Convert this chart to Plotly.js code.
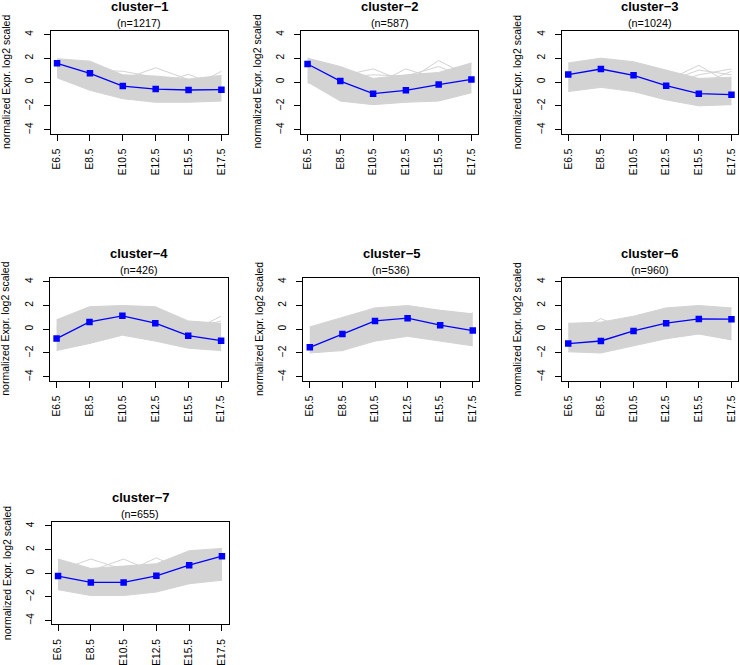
<!DOCTYPE html>
<html>
<head>
<meta charset="utf-8">
<script src="https://cdn.plot.ly/plotly-3.0.1.min.js"></script>
<style>html,body{margin:0;padding:0;background:#fff;}#chart{width:740px;height:665px;}</style>
</head>
<body>
<div id="chart"></div>
<script>
// ---------- data ----------
const timepoints = ['E6.5', 'E8.5', 'E10.5', 'E12.5', 'E15.5', 'E17.5'];
const clusterNames = ['cluster\u22121', 'cluster\u22122', 'cluster\u22123', 'cluster\u22124', 'cluster\u22125', 'cluster\u22126', 'cluster\u22127'];
const clusterSizes = [1217, 587, 1024, 426, 536, 960, 655];
const yAxisTitle = 'normalized Expr. log2 scaled';
const yTickVals = [-4, -2, 0, 2, 4];
const yTickText = ['\u22124', '\u22122', '0', '2', '4'];

// cluster mean profiles (blue)
const mean1 = [1.57, 0.73, -0.34, -0.59, -0.67, -0.64];
const mean2 = [1.51, 0.08, -0.98, -0.70, -0.22, 0.22];
const mean3 = [0.62, 1.09, 0.56, -0.31, -0.98, -1.06];
const mean4 = [-0.79, 0.62, 1.13, 0.51, -0.54, -0.96];
const mean5 = [-1.52, -0.39, 0.70, 0.93, 0.34, -0.11];
const mean6 = [-1.21, -0.99, -0.14, 0.51, 0.87, 0.85];
const mean7 = [-0.25, -0.79, -0.79, -0.23, 0.68, 1.44];

// dense grey band of member genes (upper / lower edge)
const bandHi1 = [1.95, 1.75, 0.6, 0.5, 0.25, 0.55];
const bandLo1 = [0.35, -0.7, -1.4, -1.7, -1.7, -1.6];
const bandHi2 = [2.0, 1.3, 0.3, 0.6, 0.8, 1.6];
const bandLo2 = [0.0, -1.6, -1.9, -1.7, -1.6, -0.9];
const bandHi3 = [1.6, 2.0, 1.7, 1.0, 0.3, 0.4];
const bandLo3 = [-0.8, -0.45, -0.8, -1.5, -2.0, -1.9];
const bandHi4 = [0.8, 1.9, 2.0, 1.9, 0.7, 0.5];
const bandLo4 = [-1.8, -1.2, -0.5, -1.0, -1.6, -1.8];
const bandHi5 = [0.2, 1.0, 1.8, 2.0, 1.6, 1.3];
const bandLo5 = [-2.0, -1.8, -1.0, -0.6, -1.0, -1.4];
const bandHi6 = [0.5, 0.6, 1.1, 1.8, 2.0, 1.8];
const bandLo6 = [-1.9, -2.0, -1.4, -0.8, -0.4, -0.9];
const bandHi7 = [1.2, 0.4, 0.6, 0.8, 1.9, 2.1];
const bandLo7 = [-1.4, -1.9, -1.9, -1.6, -0.9, -0.6];

// individual outlying member genes (thin grey lines)
const outliers1 = [[1.2, 0.9, 0.2, 1.2, 0.2, -0.3], [1.0, 0.5, 0.5, -0.2, 0.65, -0.5], [0.8, 0.3, -0.4, -0.5, -0.6, 0.9], [1.4, 1.0, 0.9, 0.4, -0.2, 0.0]];
const outliers2 = [[0.3, 0.5, 1.1, 0.0, 0.3, 0.5], [0.5, 0.2, -0.3, 1.1, 0.2, 0.8], [0.8, 0.0, -0.5, 0.0, 1.8, 0.4], [-0.1, 0.4, 0.6, 0.5, 1.3, 0.2]];
const outliers3 = [[0.5, 0.8, 0.3, 0.1, 1.4, -0.2], [0.0, 1.0, 0.2, 0.0, 1.0, 0.6], [0.2, 0.9, 0.5, -0.2, 0.6, 1.1], [0.8, 1.2, 0.4, 0.1, -0.2, 0.9]];
const outliers4 = [[0.0, 0.3, 0.4, 0.2, -0.3, 1.1], [-0.5, 0.4, 0.9, 0.3, 0.0, 0.7], [0.2, -1.2, 0.1, 0.0, -0.8, -0.2]];
const outliers5 = [[0.0, -1.8, 0.0, 0.5, 0.2, 0.3], [-1.0, 0.2, -1.0, 0.4, 0.0, 1.4]];
const outliers6 = [[-0.5, 0.9, -0.3, -0.8, 0.5, 0.2], [0.3, -0.2, 0.4, 0.3, -0.4, 0.0]];
const outliers7 = [[0.2, 1.2, 0.3, 0.2, 0.8, 1.0], [-0.2, 0.2, 1.2, 0.0, 0.6, 1.5], [0.0, 0.3, 0.0, 1.3, 0.0, 0.4], [0.5, 0.0, -0.3, -0.5, 0.2, -0.6]];

const means = [mean1, mean2, mean3, mean4, mean5, mean6, mean7];
const bandHis = [bandHi1, bandHi2, bandHi3, bandHi4, bandHi5, bandHi6, bandHi7];
const bandLos = [bandLo1, bandLo2, bandLo3, bandLo4, bandLo5, bandLo6, bandLo7];
const outliers = [outliers1, outliers2, outliers3, outliers4, outliers5, outliers6, outliers7];

// ---------- layout (pixel boxes of each panel: left, right, top, bottom) ----------
const W = 740, H = 665;
const boxes = [
  [50.5, 228, 30.5, 133.5],
  [301, 478, 30.5, 133.5],
  [561.7, 738, 30.5, 133.5],
  [50, 227.7, 278, 380.5],
  [303.3, 479.3, 278, 380.5],
  [561.7, 738, 278, 380.5],
  [51.5, 228.5, 522.2, 624.1]
];
const GREY = '#d3d3d3';
const FONT = 'Liberation Sans, Arial, Helvetica, sans-serif';

const traces = [];
const layout = {
  width: W, height: H,
  margin: {l: 0, r: 0, t: 0, b: 0},
  paper_bgcolor: '#fff', plot_bgcolor: '#fff',
  showlegend: false,
  font: {family: FONT, color: '#000'},
  annotations: []
};

for (let k = 0; k < 7; k++) {
  const n = k + 1;
  const xa = 'x' + (n === 1 ? '' : n), ya = 'y' + (n === 1 ? '' : n);
  const b = boxes[k];
  // band
  traces.push({x: timepoints, y: bandLos[k], xaxis: xa, yaxis: ya, type: 'scatter', mode: 'lines',
    line: {color: GREY, width: 1}, hoverinfo: 'skip'});
  traces.push({x: timepoints, y: bandHis[k], xaxis: xa, yaxis: ya, type: 'scatter', mode: 'lines',
    fill: 'tonexty', fillcolor: GREY, line: {color: GREY, width: 1}, hoverinfo: 'skip'});
  outliers[k].forEach(o => traces.push({x: timepoints, y: o, xaxis: xa, yaxis: ya, type: 'scatter', mode: 'lines',
    line: {color: GREY, width: 1}, hoverinfo: 'skip'}));
  // mean
  traces.push({x: timepoints, y: means[k], xaxis: xa, yaxis: ya, type: 'scatter', mode: 'lines+markers',
    line: {color: '#0000ff', width: 1.3}, marker: {symbol: 'square', size: 6.5, color: '#0000ff'}});

  const axBase = {showline: true, mirror: true, linecolor: '#000', linewidth: 1, showgrid: false, zeroline: false,
    ticks: 'outside', ticklen: 6, tickwidth: 1, tickcolor: '#000', tickfont: {family: FONT, size: 10.2, color: '#000'},
    tickangle: -90, fixedrange: true};
  layout['xaxis' + (n === 1 ? '' : n)] = Object.assign({}, axBase, {
    type: 'category', range: [-0.2, 5.2], domain: [b[0] / W, b[1] / W], anchor: 'y' + (n === 1 ? '' : n),
    ticklabelstandoff: 4
  });
  layout['yaxis' + (n === 1 ? '' : n)] = Object.assign({}, axBase, {
    range: [-4.32, 4.32], domain: [1 - b[3] / H, 1 - b[2] / H], anchor: 'x' + (n === 1 ? '' : n),
    tickvals: yTickVals, ticktext: yTickText, ticklabelstandoff: 6
  });
  const cx = (b[0] + b[1]) / 2 / W;
  layout.annotations.push({xref: 'paper', yref: 'paper', x: cx, y: 1 - (b[2] - 24.5) / H, text: '<b>' + clusterNames[k] + '</b>',
    showarrow: false, xanchor: 'center', yanchor: 'middle', font: {family: FONT, size: 13, color: '#000'}});
  layout.annotations.push({xref: 'paper', yref: 'paper', x: cx, y: 1 - (b[2] - 8) / H, text: '(n=' + clusterSizes[k] + ')',
    showarrow: false, xanchor: 'center', yanchor: 'middle', font: {family: FONT, size: 10.8, color: '#000'}});
  layout.annotations.push({xref: 'paper', yref: 'paper', x: (b[0] - 44.5) / W, y: 1 - (b[2] + b[3]) / 2 / H, text: yAxisTitle,
    textangle: -90, showarrow: false, xanchor: 'center', yanchor: 'middle', font: {family: FONT, size: 10.5, color: '#000'}});
}

Plotly.newPlot('chart', traces, layout, {staticPlot: true, displayModeBar: false});
</script>
</body>
</html>
